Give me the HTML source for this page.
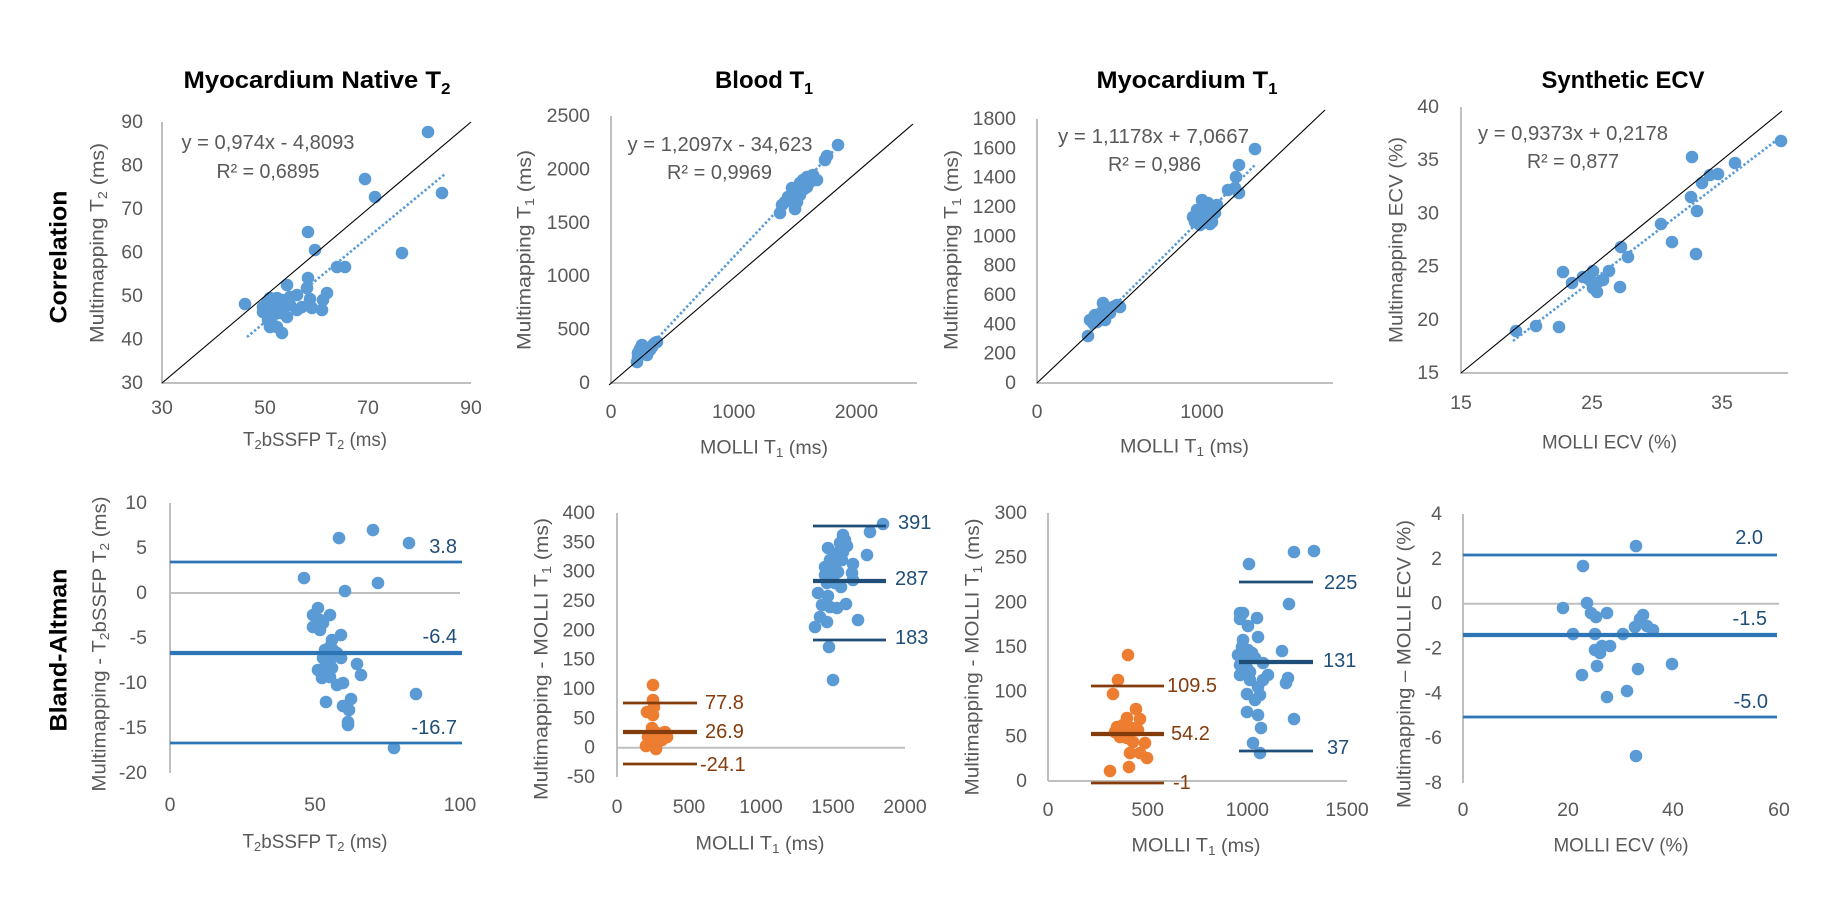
<!DOCTYPE html>
<html>
<head>
<meta charset="utf-8">
<style>
html,body{margin:0;padding:0;background:#fff;}
svg{display:block;}
.tk{font-size:19.5px;fill:#595959;dominant-baseline:central;}
.ty{text-anchor:end;}
.tx{text-anchor:middle;}
.at{font-size:19px;fill:#595959;text-anchor:middle;dominant-baseline:central;}
.eq{font-size:20px;fill:#595959;text-anchor:middle;dominant-baseline:central;}
.ttl{font-size:24px;font-weight:bold;fill:#000;text-anchor:middle;}
.rh{font-size:24.5px;font-weight:bold;fill:#000;text-anchor:middle;dominant-baseline:central;}
.ax{stroke:#bfbfbf;stroke-width:2;fill:none;}
.id{stroke:#000;stroke-width:1.1;fill:none;}
.tr{stroke:#5b9bd5;stroke-width:2.6;stroke-dasharray:2.4 2.2;fill:none;}
.bl{fill:#1f4e79;font-size:20px;dominant-baseline:central;}
.br{fill:#843c0c;font-size:20px;dominant-baseline:central;}
</style>
</head>
<body>
<svg width="1839" height="909" viewBox="0 0 1839 909" xmlns="http://www.w3.org/2000/svg" font-family="'Liberation Sans', Arial, sans-serif">
<rect width="1839" height="909" fill="#fff"/>

<!-- Titles -->
<text class="ttl" x="317" y="88" textLength="267" lengthAdjust="spacingAndGlyphs">Myocardium Native T<tspan font-size="16" dy="6">2</tspan></text>
<text class="ttl" x="764" y="88" textLength="98" lengthAdjust="spacingAndGlyphs">Blood T<tspan font-size="16" dy="6">1</tspan></text>
<text class="ttl" x="1187" y="88" textLength="181" lengthAdjust="spacingAndGlyphs">Myocardium T<tspan font-size="16" dy="6">1</tspan></text>
<text class="ttl" x="1623" y="88" textLength="163" lengthAdjust="spacingAndGlyphs">Synthetic ECV</text>

<!-- Row headers -->
<text class="rh" transform="translate(59,257) rotate(-90)" textLength="133" lengthAdjust="spacingAndGlyphs">Correlation</text>
<text class="rh" transform="translate(59,650) rotate(-90)" textLength="163" lengthAdjust="spacingAndGlyphs">Bland-Altman</text>

<!-- ================= PANEL 1 TOP ================= -->
<line class="ax" x1="162" y1="122" x2="162" y2="383"/>
<line class="ax" x1="161" y1="383" x2="471" y2="383"/>
<g class="tk ty">
<text x="143" y="122">90</text><text x="143" y="165.5">80</text><text x="143" y="209">70</text><text x="143" y="252.5">60</text><text x="143" y="296">50</text><text x="143" y="339.5">40</text><text x="143" y="383">30</text>
</g>
<g class="tk tx">
<text x="162" y="408">30</text><text x="265" y="408">50</text><text x="368" y="408">70</text><text x="471" y="408">90</text>
</g>
<text class="at" transform="translate(98,243) rotate(-90)" textLength="200" lengthAdjust="spacingAndGlyphs">Multimapping T<tspan font-size="13" dy="4">2</tspan><tspan dy="-4"> (ms)</tspan></text>
<text class="at" x="315" y="440" textLength="144" lengthAdjust="spacingAndGlyphs">T<tspan font-size="13" dy="4">2</tspan><tspan dy="-4">bSSFP T</tspan><tspan font-size="13" dy="4">2</tspan><tspan dy="-4"> (ms)</tspan></text>
<g fill="#5b9bd5">
<circle cx="428" cy="132" r="6.3"/><circle cx="365" cy="179" r="6.3"/><circle cx="375" cy="197" r="6.3"/><circle cx="442" cy="193" r="6.3"/><circle cx="308" cy="232" r="6.3"/><circle cx="315" cy="250" r="6.3"/><circle cx="402" cy="253" r="6.3"/><circle cx="337" cy="267" r="6.3"/><circle cx="345" cy="267" r="6.3"/><circle cx="308" cy="278" r="6.3"/><circle cx="287" cy="285" r="6.3"/><circle cx="307" cy="288" r="6.3"/><circle cx="297" cy="295" r="6.3"/><circle cx="327" cy="293" r="6.3"/><circle cx="245" cy="304" r="6.3"/><circle cx="310" cy="299" r="6.3"/><circle cx="323" cy="300" r="6.3"/><circle cx="322" cy="310" r="6.3"/><circle cx="312" cy="308" r="6.3"/><circle cx="270" cy="298" r="6.3"/><circle cx="277" cy="298" r="6.3"/><circle cx="263" cy="307" r="6.3"/><circle cx="273" cy="307" r="6.3"/><circle cx="283" cy="307" r="6.3"/><circle cx="290" cy="305" r="6.3"/><circle cx="263" cy="312" r="6.3"/><circle cx="280" cy="313" r="6.3"/><circle cx="287" cy="317" r="6.3"/><circle cx="297" cy="310" r="6.3"/><circle cx="270" cy="327" r="6.3"/><circle cx="277" cy="327" r="6.3"/><circle cx="282" cy="333" r="6.3"/><circle cx="302" cy="307" r="6.3"/><circle cx="283" cy="300" r="6.3"/><circle cx="290" cy="297" r="6.3"/><circle cx="267" cy="303" r="6.3"/><circle cx="272" cy="317" r="6.3"/><circle cx="276" cy="310" r="6.3"/><circle cx="268" cy="320" r="6.3"/>
</g>
<line class="tr" x1="247" y1="337" x2="445" y2="174"/>
<line class="id" x1="162" y1="383" x2="471" y2="122"/>
<text class="eq" x="268" y="143" textLength="173" lengthAdjust="spacingAndGlyphs">y = 0,974x - 4,8093</text>
<text class="eq" x="268" y="172" textLength="103" lengthAdjust="spacingAndGlyphs">R² = 0,6895</text>

<!-- ================= PANEL 1 BOTTOM ================= -->
<line class="ax" x1="170" y1="503" x2="170" y2="773"/>
<line class="ax" x1="170" y1="593" x2="460" y2="593"/>
<g class="tk ty">
<text x="147" y="503">10</text><text x="147" y="548">5</text><text x="147" y="593">0</text><text x="147" y="638">-5</text><text x="147" y="683">-10</text><text x="147" y="728">-15</text><text x="147" y="773">-20</text>
</g>
<g class="tk tx">
<text x="170" y="805">0</text><text x="315" y="805">50</text><text x="460" y="805">100</text>
</g>
<text class="at" transform="translate(100,644) rotate(-90)" textLength="295" lengthAdjust="spacingAndGlyphs">Multimapping - T<tspan font-size="13" dy="4">2</tspan><tspan dy="-4">bSSFP  T</tspan><tspan font-size="13" dy="4">2</tspan><tspan dy="-4"> (ms)</tspan></text>
<text class="at" x="315" y="842" textLength="145" lengthAdjust="spacingAndGlyphs">T<tspan font-size="13" dy="4">2</tspan><tspan dy="-4">bSSFP T</tspan><tspan font-size="13" dy="4">2</tspan><tspan dy="-4"> (ms)</tspan></text>
<g fill="#5b9bd5">
<circle cx="339" cy="538" r="6.3"/><circle cx="373" cy="530" r="6.3"/><circle cx="409" cy="543" r="6.3"/><circle cx="304" cy="578" r="6.3"/><circle cx="345" cy="591" r="6.3"/><circle cx="378" cy="583" r="6.3"/><circle cx="318" cy="608" r="6.3"/><circle cx="313" cy="615" r="6.3"/><circle cx="330" cy="615" r="6.3"/><circle cx="320" cy="620" r="6.3"/><circle cx="313" cy="627" r="6.3"/><circle cx="320" cy="630" r="6.3"/><circle cx="323" cy="623" r="6.3"/><circle cx="341" cy="635" r="6.3"/><circle cx="332" cy="640" r="6.3"/><circle cx="330" cy="647" r="6.3"/><circle cx="325" cy="650" r="6.3"/><circle cx="333" cy="650" r="6.3"/><circle cx="337" cy="653" r="6.3"/><circle cx="323" cy="658" r="6.3"/><circle cx="330" cy="660" r="6.3"/><circle cx="341" cy="658" r="6.3"/><circle cx="325" cy="667" r="6.3"/><circle cx="332" cy="668" r="6.3"/><circle cx="318" cy="670" r="6.3"/><circle cx="357" cy="664" r="6.3"/><circle cx="361" cy="675" r="6.3"/><circle cx="322" cy="678" r="6.3"/><circle cx="330" cy="677" r="6.3"/><circle cx="337" cy="685" r="6.3"/><circle cx="343" cy="683" r="6.3"/><circle cx="416" cy="694" r="6.3"/><circle cx="326" cy="702" r="6.3"/><circle cx="351" cy="699" r="6.3"/><circle cx="343" cy="706" r="6.3"/><circle cx="349" cy="710" r="6.3"/><circle cx="348" cy="722" r="6.3"/><circle cx="348" cy="725" r="6.3"/><circle cx="394" cy="748" r="6.3"/><circle cx="328" cy="662" r="6.3"/>
</g>
<line x1="170" y1="562" x2="462" y2="562" stroke="#2e75b6" stroke-width="2.7"/>
<line x1="170" y1="653" x2="462" y2="653" stroke="#2e75b6" stroke-width="4.2"/>
<line x1="170" y1="743" x2="462" y2="743" stroke="#2e75b6" stroke-width="2.7"/>
<text class="bl" x="457" y="547" text-anchor="end">3.8</text>
<text class="bl" x="457" y="637" text-anchor="end">-6.4</text>
<text class="bl" x="457" y="728" text-anchor="end">-16.7</text>

<!-- ================= PANEL 2 TOP ================= -->
<line class="ax" x1="611" y1="116" x2="611" y2="383"/>
<line class="ax" x1="610" y1="383" x2="917" y2="383"/>
<g class="tk ty">
<text x="590" y="116">2500</text><text x="590" y="169.4">2000</text><text x="590" y="222.8">1500</text><text x="590" y="276.2">1000</text><text x="590" y="329.6">500</text><text x="590" y="383">0</text>
</g>
<g class="tk tx">
<text x="611" y="412">0</text><text x="733.7" y="412">1000</text><text x="856.4" y="412">2000</text>
</g>
<text class="at" transform="translate(525,250) rotate(-90)" textLength="200" lengthAdjust="spacingAndGlyphs">Multimapping T<tspan font-size="13" dy="4">1</tspan><tspan dy="-4"> (ms)</tspan></text>
<text class="at" x="764" y="448" textLength="128" lengthAdjust="spacingAndGlyphs">MOLLI T<tspan font-size="13" dy="4">1</tspan><tspan dy="-4"> (ms)</tspan></text>
<g fill="#5b9bd5">
<circle cx="637" cy="362" r="6.3"/><circle cx="638" cy="353" r="6.3"/><circle cx="642" cy="347" r="6.3"/><circle cx="643" cy="352" r="6.3"/><circle cx="647" cy="355" r="6.3"/><circle cx="650" cy="350" r="6.3"/><circle cx="653" cy="345" r="6.3"/><circle cx="655" cy="343" r="6.3"/><circle cx="642" cy="345" r="6.3"/><circle cx="638" cy="357" r="6.3"/><circle cx="645" cy="348" r="6.3"/><circle cx="652" cy="347" r="6.3"/><circle cx="657" cy="342" r="6.3"/><circle cx="640" cy="349" r="6.3"/>
<circle cx="780" cy="213" r="6.3"/><circle cx="782" cy="205" r="6.3"/><circle cx="795" cy="209" r="6.3"/><circle cx="788" cy="197" r="6.3"/><circle cx="792" cy="188" r="6.3"/><circle cx="795" cy="195" r="6.3"/><circle cx="798" cy="190" r="6.3"/><circle cx="800" cy="183" r="6.3"/><circle cx="803" cy="180" r="6.3"/><circle cx="807" cy="177" r="6.3"/><circle cx="807" cy="187" r="6.3"/><circle cx="800" cy="195" r="6.3"/><circle cx="813" cy="175" r="6.3"/><circle cx="817" cy="180" r="6.3"/><circle cx="825" cy="160" r="6.3"/><circle cx="827" cy="156" r="6.3"/><circle cx="838" cy="145" r="6.3"/><circle cx="790" cy="200" r="6.3"/><circle cx="785" cy="202" r="6.3"/><circle cx="797" cy="202" r="6.3"/><circle cx="810" cy="182" r="6.3"/><circle cx="804" cy="189" r="6.3"/>
</g>
<line class="tr" x1="636" y1="361" x2="838" y2="146"/>
<line class="id" x1="609" y1="385" x2="913" y2="124"/>
<text class="eq" x="720" y="145" textLength="185" lengthAdjust="spacingAndGlyphs">y = 1,2097x - 34,623</text>
<text class="eq" x="719.5" y="173" textLength="105" lengthAdjust="spacingAndGlyphs">R² = 0,9969</text>

<!-- ================= PANEL 2 BOTTOM ================= -->
<line class="ax" x1="617" y1="513" x2="617" y2="777"/>
<line class="ax" x1="617" y1="747.7" x2="905" y2="747.7"/>
<g class="tk ty">
<text x="595" y="513">400</text><text x="595" y="542.3">350</text><text x="595" y="571.7">300</text><text x="595" y="601">250</text><text x="595" y="630.3">200</text><text x="595" y="659.7">150</text><text x="595" y="689">100</text><text x="595" y="718.3">50</text><text x="595" y="747.7">0</text><text x="595" y="777">-50</text>
</g>
<g class="tk tx">
<text x="617" y="807">0</text><text x="689" y="807">500</text><text x="761" y="807">1000</text><text x="833" y="807">1500</text><text x="905" y="807">2000</text>
</g>
<text class="at" transform="translate(542,659) rotate(-90)" textLength="282" lengthAdjust="spacingAndGlyphs">Multimapping  - MOLLI T<tspan font-size="13" dy="4">1</tspan><tspan dy="-4"> (ms)</tspan></text>
<text class="at" x="760" y="844" textLength="129" lengthAdjust="spacingAndGlyphs">MOLLI T<tspan font-size="13" dy="4">1</tspan><tspan dy="-4"> (ms)</tspan></text>
<g fill="#5b9bd5">
<circle cx="883" cy="524" r="6.3"/><circle cx="870" cy="532" r="6.3"/><circle cx="843" cy="535" r="6.3"/><circle cx="845" cy="540" r="6.3"/><circle cx="840" cy="543" r="6.3"/><circle cx="828" cy="548" r="6.3"/><circle cx="847" cy="546" r="6.3"/><circle cx="867" cy="555" r="6.3"/><circle cx="837" cy="553" r="6.3"/><circle cx="830" cy="560" r="6.3"/><circle cx="842" cy="560" r="6.3"/><circle cx="853" cy="564" r="6.3"/><circle cx="825" cy="567" r="6.3"/><circle cx="833" cy="567" r="6.3"/><circle cx="838" cy="572" r="6.3"/><circle cx="852" cy="573" r="6.3"/><circle cx="825" cy="575" r="6.3"/><circle cx="832" cy="577" r="6.3"/><circle cx="853" cy="580" r="6.3"/><circle cx="827" cy="583" r="6.3"/><circle cx="835" cy="583" r="6.3"/><circle cx="841" cy="587" r="6.3"/><circle cx="818" cy="593" r="6.3"/><circle cx="828" cy="596" r="6.3"/><circle cx="822" cy="605" r="6.3"/><circle cx="830" cy="607" r="6.3"/><circle cx="837" cy="608" r="6.3"/><circle cx="846" cy="604" r="6.3"/><circle cx="820" cy="617" r="6.3"/><circle cx="815" cy="627" r="6.3"/><circle cx="827" cy="622" r="6.3"/><circle cx="858" cy="620" r="6.3"/><circle cx="829" cy="647" r="6.3"/><circle cx="833" cy="680" r="6.3"/><circle cx="843" cy="552" r="6.3"/><circle cx="836" cy="562" r="6.3"/>
</g>
<g fill="#ed7d31">
<circle cx="653" cy="685" r="6.3"/><circle cx="653" cy="700" r="6.3"/><circle cx="654" cy="707" r="6.3"/><circle cx="647" cy="712" r="6.3"/><circle cx="653" cy="715" r="6.3"/><circle cx="652" cy="728" r="6.3"/><circle cx="657" cy="733" r="6.3"/><circle cx="663" cy="733" r="6.3"/><circle cx="667" cy="737" r="6.3"/><circle cx="648" cy="737" r="6.3"/><circle cx="650" cy="742" r="6.3"/><circle cx="657" cy="743" r="6.3"/><circle cx="662" cy="740" r="6.3"/><circle cx="646" cy="746" r="6.3"/><circle cx="656" cy="749" r="6.3"/><circle cx="665" cy="732" r="6.3"/><circle cx="660" cy="737" r="6.3"/>
</g>
<line x1="813" y1="526" x2="886" y2="526" stroke="#1f4e79" stroke-width="2.7"/>
<line x1="813" y1="581" x2="886" y2="581" stroke="#1f4e79" stroke-width="4.2"/>
<line x1="813" y1="640" x2="886" y2="640" stroke="#1f4e79" stroke-width="2.7"/>
<line x1="623" y1="703" x2="697" y2="703" stroke="#843c0c" stroke-width="2.7"/>
<line x1="623" y1="732" x2="697" y2="732" stroke="#843c0c" stroke-width="4.2"/>
<line x1="623" y1="764" x2="697" y2="764" stroke="#843c0c" stroke-width="2.7"/>
<text class="bl" x="898" y="523">391</text>
<text class="bl" x="895" y="579">287</text>
<text class="bl" x="895" y="638">183</text>
<text class="br" x="705" y="703">77.8</text>
<text class="br" x="705" y="732">26.9</text>
<text class="br" x="700" y="765">-24.1</text>

<!-- ================= PANEL 3 TOP ================= -->
<line class="ax" x1="1037" y1="119" x2="1037" y2="383"/>
<line class="ax" x1="1036" y1="383" x2="1333" y2="383"/>
<g class="tk ty">
<text x="1016" y="119">1800</text><text x="1016" y="148.3">1600</text><text x="1016" y="177.7">1400</text><text x="1016" y="207">1200</text><text x="1016" y="236.3">1000</text><text x="1016" y="265.7">800</text><text x="1016" y="295">600</text><text x="1016" y="324.3">400</text><text x="1016" y="353.7">200</text><text x="1016" y="383">0</text>
</g>
<g class="tk tx">
<text x="1037" y="412">0</text><text x="1202" y="412">1000</text>
</g>
<text class="at" transform="translate(952,250) rotate(-90)" textLength="200" lengthAdjust="spacingAndGlyphs">Multimapping T<tspan font-size="13" dy="4">1</tspan><tspan dy="-4"> (ms)</tspan></text>
<text class="at" x="1184.5" y="447" textLength="129" lengthAdjust="spacingAndGlyphs">MOLLI T<tspan font-size="13" dy="4">1</tspan><tspan dy="-4"> (ms)</tspan></text>
<g fill="#5b9bd5">
<circle cx="1088" cy="336" r="6.3"/><circle cx="1090" cy="320" r="6.3"/><circle cx="1095" cy="315" r="6.3"/><circle cx="1100" cy="317" r="6.3"/><circle cx="1103" cy="303" r="6.3"/><circle cx="1105" cy="320" r="6.3"/><circle cx="1110" cy="313" r="6.3"/><circle cx="1113" cy="307" r="6.3"/><circle cx="1117" cy="305" r="6.3"/><circle cx="1120" cy="307" r="6.3"/><circle cx="1097" cy="322" r="6.3"/><circle cx="1093" cy="323" r="6.3"/><circle cx="1107" cy="310" r="6.3"/><circle cx="1102" cy="312" r="6.3"/>
<circle cx="1195" cy="222" r="6.3"/><circle cx="1198" cy="217" r="6.3"/><circle cx="1202" cy="213" r="6.3"/><circle cx="1203" cy="223" r="6.3"/><circle cx="1207" cy="217" r="6.3"/><circle cx="1210" cy="213" r="6.3"/><circle cx="1212" cy="222" r="6.3"/><circle cx="1205" cy="207" r="6.3"/><circle cx="1202" cy="200" r="6.3"/><circle cx="1208" cy="203" r="6.3"/><circle cx="1217" cy="205" r="6.3"/><circle cx="1215" cy="213" r="6.3"/><circle cx="1200" cy="225" r="6.3"/><circle cx="1193" cy="217" r="6.3"/><circle cx="1197" cy="210" r="6.3"/><circle cx="1228" cy="190" r="6.3"/><circle cx="1235" cy="188" r="6.3"/><circle cx="1239" cy="193" r="6.3"/><circle cx="1236" cy="177" r="6.3"/><circle cx="1239" cy="165" r="6.3"/><circle cx="1255" cy="149" r="6.3"/><circle cx="1207" cy="220" r="6.3"/><circle cx="1210" cy="224" r="6.3"/><circle cx="1213" cy="210" r="6.3"/>
</g>
<line class="tr" x1="1087" y1="333" x2="1255" y2="165"/>
<line class="id" x1="1037" y1="383" x2="1325" y2="110"/>
<text class="eq" x="1153.5" y="137" textLength="191" lengthAdjust="spacingAndGlyphs">y = 1,1178x + 7,0667</text>
<text class="eq" x="1154.5" y="165" textLength="93" lengthAdjust="spacingAndGlyphs">R² = 0,986</text>

<!-- ================= PANEL 3 BOTTOM ================= -->
<line class="ax" x1="1048" y1="513" x2="1048" y2="781"/>
<line class="ax" x1="1048" y1="781" x2="1347" y2="781"/>
<g class="tk ty">
<text x="1027" y="513">300</text><text x="1027" y="557.7">250</text><text x="1027" y="602.3">200</text><text x="1027" y="647">150</text><text x="1027" y="691.7">100</text><text x="1027" y="736.3">50</text><text x="1027" y="781">0</text>
</g>
<g class="tk tx">
<text x="1048" y="810">0</text><text x="1147.7" y="810">500</text><text x="1247.3" y="810">1000</text><text x="1347" y="810">1500</text>
</g>
<text class="at" transform="translate(973,657) rotate(-90)" textLength="277" lengthAdjust="spacingAndGlyphs">Multimapping - MOLLI T<tspan font-size="13" dy="4">1</tspan><tspan dy="-4"> (ms)</tspan></text>
<text class="at" x="1196" y="846" textLength="129" lengthAdjust="spacingAndGlyphs">MOLLI T<tspan font-size="13" dy="4">1</tspan><tspan dy="-4"> (ms)</tspan></text>
<g fill="#5b9bd5">
<circle cx="1249" cy="564" r="6.3"/><circle cx="1294" cy="552" r="6.3"/><circle cx="1314" cy="551" r="6.3"/><circle cx="1289" cy="604" r="6.3"/><circle cx="1240" cy="613" r="6.3"/><circle cx="1243" cy="613" r="6.3"/><circle cx="1240" cy="619" r="6.3"/><circle cx="1257" cy="618" r="6.3"/><circle cx="1248" cy="626" r="6.3"/><circle cx="1258" cy="637" r="6.3"/><circle cx="1243" cy="640" r="6.3"/><circle cx="1242" cy="647" r="6.3"/><circle cx="1248" cy="650" r="6.3"/><circle cx="1238" cy="655" r="6.3"/><circle cx="1252" cy="653" r="6.3"/><circle cx="1282" cy="651" r="6.3"/><circle cx="1245" cy="660" r="6.3"/><circle cx="1255" cy="658" r="6.3"/><circle cx="1263" cy="663" r="6.3"/><circle cx="1240" cy="665" r="6.3"/><circle cx="1247" cy="668" r="6.3"/><circle cx="1240" cy="675" r="6.3"/><circle cx="1268" cy="675" r="6.3"/><circle cx="1263" cy="680" r="6.3"/><circle cx="1250" cy="680" r="6.3"/><circle cx="1288" cy="678" r="6.3"/><circle cx="1286" cy="683" r="6.3"/><circle cx="1258" cy="687" r="6.3"/><circle cx="1247" cy="694" r="6.3"/><circle cx="1260" cy="695" r="6.3"/><circle cx="1255" cy="700" r="6.3"/><circle cx="1247" cy="712" r="6.3"/><circle cx="1258" cy="715" r="6.3"/><circle cx="1294" cy="719" r="6.3"/><circle cx="1261" cy="728" r="6.3"/><circle cx="1253" cy="743" r="6.3"/><circle cx="1260" cy="753" r="6.3"/><circle cx="1250" cy="672" r="6.3"/>
</g>
<g fill="#ed7d31">
<circle cx="1128" cy="655" r="6.3"/><circle cx="1118" cy="680" r="6.3"/><circle cx="1113" cy="694" r="6.3"/><circle cx="1136" cy="709" r="6.3"/><circle cx="1127" cy="718" r="6.3"/><circle cx="1140" cy="719" r="6.3"/><circle cx="1117" cy="727" r="6.3"/><circle cx="1123" cy="725" r="6.3"/><circle cx="1132" cy="728" r="6.3"/><circle cx="1138" cy="730" r="6.3"/><circle cx="1120" cy="737" r="6.3"/><circle cx="1127" cy="738" r="6.3"/><circle cx="1133" cy="742" r="6.3"/><circle cx="1145" cy="743" r="6.3"/><circle cx="1130" cy="753" r="6.3"/><circle cx="1140" cy="753" r="6.3"/><circle cx="1147" cy="758" r="6.3"/><circle cx="1129" cy="767" r="6.3"/><circle cx="1110" cy="771" r="6.3"/><circle cx="1115" cy="732" r="6.3"/><circle cx="1125" cy="733" r="6.3"/>
</g>
<line x1="1239" y1="582" x2="1313" y2="582" stroke="#1f4e79" stroke-width="2.7"/>
<line x1="1239" y1="662" x2="1313" y2="662" stroke="#1f4e79" stroke-width="4.2"/>
<line x1="1239" y1="751" x2="1313" y2="751" stroke="#1f4e79" stroke-width="2.7"/>
<line x1="1091" y1="686" x2="1164" y2="686" stroke="#843c0c" stroke-width="2.7"/>
<line x1="1091" y1="734" x2="1164" y2="734" stroke="#843c0c" stroke-width="4.2"/>
<line x1="1091" y1="783" x2="1164" y2="783" stroke="#843c0c" stroke-width="2.7"/>
<text class="bl" x="1324" y="583">225</text>
<text class="bl" x="1323" y="661">131</text>
<text class="bl" x="1327" y="748">37</text>
<text class="br" x="1167" y="686">109.5</text>
<text class="br" x="1171" y="734">54.2</text>
<text class="br" x="1173" y="783">-1</text>

<!-- ================= PANEL 4 TOP ================= -->
<line class="ax" x1="1461" y1="107" x2="1461" y2="373"/>
<line class="ax" x1="1460" y1="373" x2="1788" y2="373"/>
<g class="tk ty">
<text x="1439" y="107">40</text><text x="1439" y="160.2">35</text><text x="1439" y="213.4">30</text><text x="1439" y="266.6">25</text><text x="1439" y="319.8">20</text><text x="1439" y="373">15</text>
</g>
<g class="tk tx">
<text x="1461" y="403">15</text><text x="1592" y="403">25</text><text x="1722" y="403">35</text>
</g>
<text class="at" transform="translate(1397,240) rotate(-90)" textLength="206" lengthAdjust="spacingAndGlyphs">Multimapping ECV (%)</text>
<text class="at" x="1609.5" y="443" textLength="135" lengthAdjust="spacingAndGlyphs">MOLLI ECV (%)</text>
<g fill="#5b9bd5">
<circle cx="1781" cy="141" r="6.3"/><circle cx="1735" cy="163" r="6.3"/><circle cx="1692" cy="157" r="6.3"/><circle cx="1710" cy="175" r="6.3"/><circle cx="1718" cy="174" r="6.3"/><circle cx="1702" cy="183" r="6.3"/><circle cx="1691" cy="197" r="6.3"/><circle cx="1697" cy="211" r="6.3"/><circle cx="1661" cy="224" r="6.3"/><circle cx="1672" cy="242" r="6.3"/><circle cx="1696" cy="254" r="6.3"/><circle cx="1621" cy="247" r="6.3"/><circle cx="1628" cy="257" r="6.3"/><circle cx="1563" cy="272" r="6.3"/><circle cx="1583" cy="277" r="6.3"/><circle cx="1572" cy="283" r="6.3"/><circle cx="1593" cy="271" r="6.3"/><circle cx="1609" cy="271" r="6.3"/><circle cx="1590" cy="280" r="6.3"/><circle cx="1597" cy="283" r="6.3"/><circle cx="1603" cy="280" r="6.3"/><circle cx="1593" cy="288" r="6.3"/><circle cx="1597" cy="292" r="6.3"/><circle cx="1620" cy="287" r="6.3"/><circle cx="1516" cy="331" r="6.3"/><circle cx="1536" cy="326" r="6.3"/><circle cx="1559" cy="327" r="6.3"/><circle cx="1587" cy="278" r="6.3"/>
</g>
<line class="tr" x1="1513" y1="341" x2="1782" y2="136"/>
<line class="id" x1="1461" y1="373" x2="1782" y2="111"/>
<text class="eq" x="1573" y="134" textLength="190" lengthAdjust="spacingAndGlyphs">y = 0,9373x + 0,2178</text>
<text class="eq" x="1573" y="162" textLength="92" lengthAdjust="spacingAndGlyphs">R² = 0,877</text>

<!-- ================= PANEL 4 BOTTOM ================= -->
<line class="ax" x1="1463" y1="514" x2="1463" y2="783"/>
<line class="ax" x1="1463" y1="603.7" x2="1779" y2="603.7"/>
<g class="tk ty">
<text x="1442" y="514">4</text><text x="1442" y="558.8">2</text><text x="1442" y="603.7">0</text><text x="1442" y="648.5">-2</text><text x="1442" y="693.3">-4</text><text x="1442" y="738.2">-6</text><text x="1442" y="783">-8</text>
</g>
<g class="tk tx">
<text x="1463" y="810">0</text><text x="1568" y="810">20</text><text x="1673" y="810">40</text><text x="1779" y="810">60</text>
</g>
<text class="at" transform="translate(1405,664) rotate(-90)" textLength="288" lengthAdjust="spacingAndGlyphs">Multimapping – MOLLI ECV (%)</text>
<text class="at" x="1621" y="846" textLength="135" lengthAdjust="spacingAndGlyphs">MOLLI ECV (%)</text>
<g fill="#5b9bd5">
<circle cx="1636" cy="546" r="6.3"/><circle cx="1583" cy="566" r="6.3"/><circle cx="1563" cy="608" r="6.3"/><circle cx="1587" cy="603" r="6.3"/><circle cx="1591" cy="613" r="6.3"/><circle cx="1596" cy="617" r="6.3"/><circle cx="1607" cy="613" r="6.3"/><circle cx="1573" cy="634" r="6.3"/><circle cx="1595" cy="634" r="6.3"/><circle cx="1623" cy="634" r="6.3"/><circle cx="1635" cy="627" r="6.3"/><circle cx="1640" cy="619" r="6.3"/><circle cx="1643" cy="615" r="6.3"/><circle cx="1647" cy="626" r="6.3"/><circle cx="1653" cy="630" r="6.3"/><circle cx="1602" cy="646" r="6.3"/><circle cx="1610" cy="646" r="6.3"/><circle cx="1595" cy="650" r="6.3"/><circle cx="1600" cy="653" r="6.3"/><circle cx="1597" cy="666" r="6.3"/><circle cx="1582" cy="675" r="6.3"/><circle cx="1638" cy="669" r="6.3"/><circle cx="1672" cy="664" r="6.3"/><circle cx="1627" cy="691" r="6.3"/><circle cx="1607" cy="697" r="6.3"/><circle cx="1636" cy="756" r="6.3"/>
</g>
<line x1="1463" y1="555" x2="1777" y2="555" stroke="#2e75b6" stroke-width="2.7"/>
<line x1="1463" y1="635" x2="1777" y2="635" stroke="#2e75b6" stroke-width="4.2"/>
<line x1="1463" y1="717" x2="1777" y2="717" stroke="#2e75b6" stroke-width="2.7"/>
<text class="bl" x="1763" y="538" text-anchor="end">2.0</text>
<text class="bl" x="1767" y="619" text-anchor="end">-1.5</text>
<text class="bl" x="1768" y="702" text-anchor="end">-5.0</text>

</svg>
</body>
</html>
